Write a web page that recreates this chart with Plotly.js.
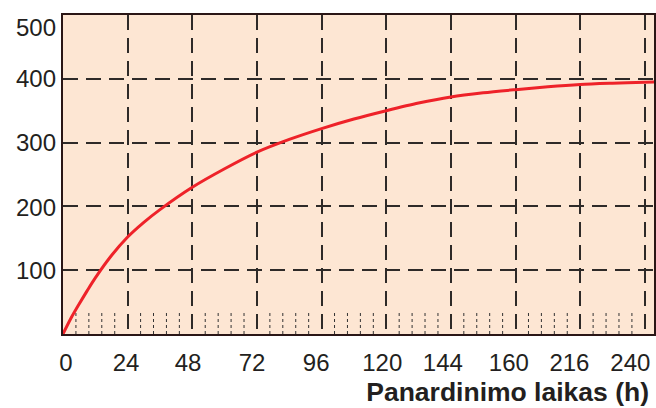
<!DOCTYPE html>
<html>
<head>
<meta charset="utf-8">
<script src="https://cdn.plot.ly/plotly-3.0.1.min.js"></script>
<style>html,body{margin:0;padding:0;background:#fff;}#chart{width:656px;height:408px;}</style>
</head>
<body>
<div id="chart"></div>
<script>
// Hours on the drawn (evenly spaced) scale
const hours = [0, 3, 6, 9, 12, 18, 24, 30, 36, 48, 60, 72, 84, 96, 108, 120, 132, 144, 156, 168, 180, 192, 204, 216, 219.4];
const values = [0, 25, 47, 68, 88, 123, 152, 175, 195, 230, 259, 285, 305, 322, 337, 350, 362, 371.5, 378, 383, 387.5, 391, 393, 394.5, 395];
// grid positions (major ticks) and their labels
const gridVals = [0, 24, 48, 72, 96, 120, 144, 168, 192, 216];
const tickText = ['0', '24', '48', '72', '96', '120', '144', '160', '216', '240'];
// where the original places each x label (slightly left of its gridline)
const xLabelPos = [1.1, 23.4, 46.4, 70.2, 94, 118.5, 141, 165.5, 188, 210.6];
const yGrid = [100, 200, 300, 400];
const yText = ['100', '200', '300', '400', '500'];
const yLabelPos = [100, 198, 300, 400, 480];

const axisColor = '#2a1616';
const gridColor = '#2e2a28';
const textColor = '#231f20';

// minor dotted ticks along the bottom: 4 between each pair of major ticks
const shapes = [];
for (let i = 0; i < gridVals.length - 1; i++) {
  const a = gridVals[i], b = gridVals[i + 1];
  for (let k = 1; k <= 4; k++) {
    const x = a + (b - a) * k / 5;
    shapes.push({type: 'line', xref: 'x', yref: 'y', x0: x, x1: x, y0: 0, y1: 34,
      line: {color: '#333', width: 1, dash: 'dot'}, layer: 'below'});
  }
}

const traces = [
  {x: hours, y: values, type: 'scatter', mode: 'lines',
   line: {color: '#ee2229', width: 3, shape: 'spline', smoothing: 0.8}, hoverinfo: 'skip'},
  {x: [], y: [], xaxis: 'x2', yaxis: 'y2', type: 'scatter', mode: 'lines', hoverinfo: 'skip'}
];

const xr = [0, 219.4];
const layout = {
  width: 656, height: 408,
  margin: {l: 63, r: 2, t: 15, b: 74},
  paper_bgcolor: '#ffffff',
  plot_bgcolor: '#fde6d3',
  showlegend: false,
  font: {family: 'Liberation Sans, Arial, sans-serif', color: textColor},
  xaxis: {
    range: xr, tickmode: 'array', tickvals: gridVals, showticklabels: false, ticks: '',
    showgrid: true, gridcolor: gridColor, gridwidth: 2, griddash: '15px,8px',
    zeroline: false, showline: true, linecolor: axisColor, linewidth: 2, mirror: true,
    title: {text: '<b>Panardinimo laikas (h)</b>', font: {size: 26.5, color: textColor}},
    fixedrange: true
  },
  yaxis: {
    range: [0, 500], tickmode: 'array', tickvals: yGrid, showticklabels: false, ticks: '',
    showgrid: true, gridcolor: gridColor, gridwidth: 2, griddash: '15px,8px',
    zeroline: false, showline: true, linecolor: axisColor, linewidth: 2, mirror: true,
    fixedrange: true
  },
  xaxis2: {
    overlaying: 'x', anchor: 'y', side: 'bottom', range: xr,
    tickmode: 'array', tickvals: xLabelPos, ticktext: tickText, ticks: '',
    tickfont: {size: 24, color: textColor}, ticklabelstandoff: 12,
    showgrid: false, zeroline: false, showline: false, fixedrange: true
  },
  yaxis2: {
    overlaying: 'y', anchor: 'x', side: 'left', range: [0, 500],
    tickmode: 'array', tickvals: yLabelPos, ticktext: yText, ticks: '',
    tickfont: {size: 24, color: textColor}, ticklabelstandoff: 6,
    showgrid: false, zeroline: false, showline: false, fixedrange: true
  },
  shapes: shapes
};

Plotly.newPlot('chart', traces, layout, {displayModeBar: false, staticPlot: true}).then(() => {
  // place the x-axis title right-aligned under the plot, as in the original
  const t = document.querySelector('.g-xtitle text');
  if (t) {
    const fl = document.getElementById('chart')._fullLayout;
    t.setAttribute('text-anchor', 'end');
    t.setAttribute('x', fl._size.l + fl._size.w - 5);
    t.setAttribute('y', 401);
    t.removeAttribute('transform');
  }
});
</script>
</body>
</html>
